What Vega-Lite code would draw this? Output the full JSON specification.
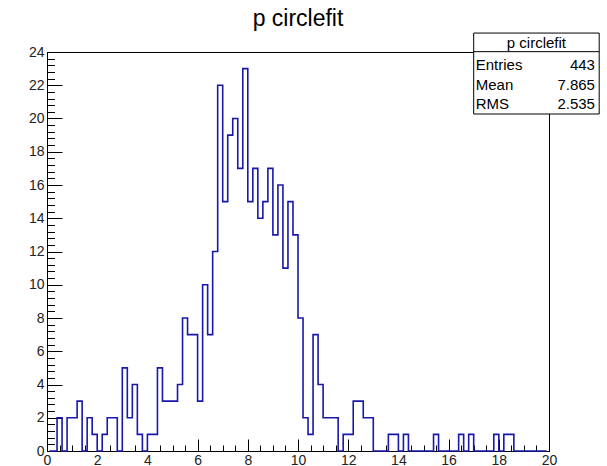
{
  "$schema": "https://vega.github.io/schema/vega-lite/v6.json",
  "autosize": "none",
  "width": 502,
  "height": 399,
  "padding": {"left": 47, "top": 52, "right": 58, "bottom": 15},
  "background": "white",
  "config": {"view": {"stroke": "black", "strokeWidth": 1}, "font": "Liberation Sans"},
  "title": {"text": "p circlefit", "fontSize": 23, "font": "Liberation Sans", "fontWeight": "normal", "color": "black", "anchor": "middle", "frame": "group", "offset": 2},
  "datasets": {
    "hist": [
      {"x": 0.1, "count": 0}, {"x": 0.3, "count": 0}, {"x": 0.5, "count": 2}, {"x": 0.7, "count": 0}, {"x": 0.9, "count": 2},
      {"x": 1.1, "count": 2}, {"x": 1.3, "count": 3}, {"x": 1.5, "count": 0}, {"x": 1.7, "count": 2}, {"x": 1.9, "count": 1},
      {"x": 2.1, "count": 0}, {"x": 2.3, "count": 1}, {"x": 2.5, "count": 2}, {"x": 2.7, "count": 2}, {"x": 2.9, "count": 0},
      {"x": 3.1, "count": 5}, {"x": 3.3, "count": 2}, {"x": 3.5, "count": 4}, {"x": 3.7, "count": 1}, {"x": 3.9, "count": 0},
      {"x": 4.1, "count": 1}, {"x": 4.3, "count": 1}, {"x": 4.5, "count": 5}, {"x": 4.7, "count": 3}, {"x": 4.9, "count": 3},
      {"x": 5.1, "count": 3}, {"x": 5.3, "count": 4}, {"x": 5.5, "count": 8}, {"x": 5.7, "count": 7}, {"x": 5.9, "count": 7},
      {"x": 6.1, "count": 3}, {"x": 6.3, "count": 10}, {"x": 6.5, "count": 7}, {"x": 6.7, "count": 12}, {"x": 6.9, "count": 22},
      {"x": 7.1, "count": 15}, {"x": 7.3, "count": 19}, {"x": 7.5, "count": 20}, {"x": 7.7, "count": 17}, {"x": 7.9, "count": 23},
      {"x": 8.1, "count": 15}, {"x": 8.3, "count": 17}, {"x": 8.5, "count": 14}, {"x": 8.7, "count": 15}, {"x": 8.9, "count": 17},
      {"x": 9.1, "count": 13}, {"x": 9.3, "count": 16}, {"x": 9.5, "count": 11}, {"x": 9.7, "count": 15}, {"x": 9.9, "count": 13},
      {"x": 10.1, "count": 8}, {"x": 10.3, "count": 2}, {"x": 10.5, "count": 1}, {"x": 10.7, "count": 7}, {"x": 10.9, "count": 4},
      {"x": 11.1, "count": 2}, {"x": 11.3, "count": 2}, {"x": 11.5, "count": 2}, {"x": 11.7, "count": 0}, {"x": 11.9, "count": 1},
      {"x": 12.1, "count": 1}, {"x": 12.3, "count": 3}, {"x": 12.5, "count": 3}, {"x": 12.7, "count": 2}, {"x": 12.9, "count": 2},
      {"x": 13.1, "count": 0}, {"x": 13.3, "count": 0}, {"x": 13.5, "count": 0}, {"x": 13.7, "count": 1}, {"x": 13.9, "count": 1},
      {"x": 14.1, "count": 0}, {"x": 14.3, "count": 1}, {"x": 14.5, "count": 0}, {"x": 14.7, "count": 0}, {"x": 14.9, "count": 0},
      {"x": 15.1, "count": 0}, {"x": 15.3, "count": 0}, {"x": 15.5, "count": 1}, {"x": 15.7, "count": 0}, {"x": 15.9, "count": 0},
      {"x": 16.1, "count": 0}, {"x": 16.3, "count": 0}, {"x": 16.5, "count": 1}, {"x": 16.7, "count": 0}, {"x": 16.9, "count": 1},
      {"x": 17.1, "count": 0}, {"x": 17.3, "count": 0}, {"x": 17.5, "count": 0}, {"x": 17.7, "count": 0}, {"x": 17.9, "count": 1},
      {"x": 18.1, "count": 0}, {"x": 18.3, "count": 1}, {"x": 18.5, "count": 1}, {"x": 18.7, "count": 0}, {"x": 18.9, "count": 0},
      {"x": 19.1, "count": 0}, {"x": 19.3, "count": 0}, {"x": 19.5, "count": 0}, {"x": 19.7, "count": 0}, {"x": 19.9, "count": 0}
    ],
    "stats": [
      {"stat": "Entries", "value": "443"},
      {"stat": "Mean", "value": "7.865"},
      {"stat": "RMS", "value": "2.535"}
    ]
  },
  "layer": [
    {
      "data": {"name": "hist"},
      "layer": [
        {
          "mark": {"type": "line", "strokeOpacity": 0},
          "encoding": {
            "x": {"field": "x", "type": "quantitative", "scale": {"domain": [0, 20], "nice": false, "zero": false},
                  "axis": {"orient": "bottom", "values": [0,0.5,1,1.5,2,2.5,3,3.5,4,4.5,5,5.5,6,6.5,7,7.5,8,8.5,9,9.5,10,10.5,11,11.5,12,12.5,13,13.5,14,14.5,15,15.5,16,16.5,17,17.5,18,18.5,19,19.5,20], "labels": false, "tickSize": -6, "tickColor": "black", "domain": false, "grid": false, "title": null}},
            "y": {"field": "count", "type": "quantitative", "scale": {"domain": [0, 24], "nice": false},
                  "axis": {"orient": "left", "values": [0,0.4,0.8,1.2,1.6,2,2.4,2.8,3.2,3.6,4,4.4,4.8,5.2,5.6,6,6.4,6.8,7.2,7.6,8,8.4,8.8,9.2,9.6,10,10.4,10.8,11.2,11.6,12,12.4,12.8,13.2,13.6,14,14.4,14.8,15.2,15.6,16,16.4,16.8,17.2,17.6,18,18.4,18.8,19.2,19.6,20,20.4,20.8,21.2,21.6,22,22.4,22.8,23.2,23.6,24], "labels": false, "tickSize": -7.5, "tickColor": "black", "domain": false, "grid": false, "title": null}}
          }
        },
        {
          "mark": {"type": "line", "interpolate": "step", "color": "#1818aa", "strokeWidth": 1.6},
          "encoding": {
            "x": {"field": "x", "type": "quantitative", "scale": {"domain": [0, 20], "nice": false, "zero": false},
                  "axis": {"orient": "bottom", "values": [0,2,4,6,8,10,12,14,16,18,20], "tickSize": -12, "tickColor": "black", "domainColor": "black", "grid": false, "title": null, "labelFont": "Liberation Sans", "labelFontSize": 14, "labelColor": "#222", "labelPadding": 14, "labelFlush": false, "labelOverlap": false}},
            "y": {"field": "count", "type": "quantitative", "scale": {"domain": [0, 24], "nice": false},
                  "axis": {"orient": "left", "values": [0,2,4,6,8,10,12,14,16,18,20,22,24], "tickSize": -15, "tickColor": "black", "domainColor": "black", "grid": false, "title": null, "labelFont": "Liberation Sans", "labelFontSize": 14, "labelColor": "#222", "labelPadding": 18, "labelFlush": false, "labelOverlap": false}}
          }
        },
        {
          "data": {"values": [{"name": "p circlefit"}]},
          "mark": {"type": "rect", "fill": "white", "stroke": "black", "strokeWidth": 1},
          "encoding": {
            "x": {"datum": 17.0, "type": "quantitative", "axis": null},
            "x2": {"datum": 22.0},
            "y": {"datum": 25.14, "type": "quantitative", "axis": null},
            "y2": {"datum": 20.27}
          }
        },
        {
          "data": {"values": [{"name": "p circlefit"}]},
          "mark": {"type": "rule", "color": "black", "strokeWidth": 1},
          "encoding": {
            "x": {"datum": 17.0, "type": "quantitative", "axis": null},
            "x2": {"datum": 22.0},
            "y": {"datum": 24.02, "type": "quantitative", "axis": null}
          }
        },
        {
          "data": {"values": [{"name": "p circlefit"}]},
          "mark": {"type": "text", "align": "center", "baseline": "middle", "font": "Liberation Sans", "fontSize": 15, "color": "black"},
          "encoding": {
            "x": {"datum": 19.5, "type": "quantitative", "axis": null},
            "y": {"datum": 24.57, "type": "quantitative", "axis": null},
            "text": {"field": "name"}
          }
        }
      ],
      "resolve": {"axis": {"x": "independent", "y": "independent"}}
    },
    {
      "data": {"name": "stats"},
      "mark": {"type": "text", "align": "left", "baseline": "middle", "font": "Liberation Sans", "fontSize": 15, "color": "black"},
      "encoding": {
        "x": {"datum": 17.08, "type": "quantitative", "axis": null},
        "y": {"field": "stat", "type": "ordinal", "sort": null, "scale": {"type": "point", "range": [13, 52], "padding": 0}, "axis": null},
        "text": {"field": "stat"}
      }
    },
    {
      "data": {"name": "stats"},
      "mark": {"type": "text", "align": "right", "baseline": "middle", "font": "Liberation Sans", "fontSize": 15, "color": "black"},
      "encoding": {
        "x": {"datum": 21.83, "type": "quantitative", "axis": null},
        "y": {"field": "stat", "type": "ordinal", "sort": null, "scale": {"type": "point", "range": [13, 52], "padding": 0}, "axis": null},
        "text": {"field": "value"}
      }
    }
  ],
  "resolve": {"scale": {"y": "independent"}}
}
